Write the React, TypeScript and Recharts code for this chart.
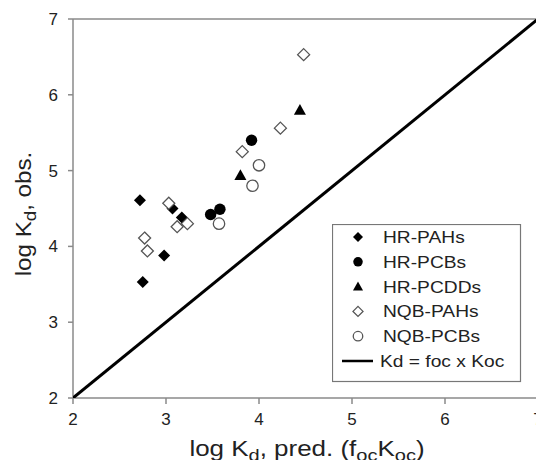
import React from "react";
import { ScatterChart, Scatter, XAxis, YAxis, ReferenceLine, Legend } from "recharts";

const hrPahs = [
  { x: 2.72, y: 4.61 },
  { x: 3.07, y: 4.5 },
  { x: 3.17, y: 4.38 },
  { x: 2.98, y: 3.88 },
  { x: 2.75, y: 3.53 },
];
const hrPcbs = [
  { x: 3.92, y: 5.4 },
  { x: 3.48, y: 4.42 },
  { x: 3.58, y: 4.49 },
];
const hrPcdds = [
  { x: 4.44, y: 5.8 },
  { x: 3.8, y: 4.94 },
];
const nqbPahs = [
  { x: 4.48, y: 6.53 },
  { x: 4.23, y: 5.56 },
  { x: 3.82, y: 5.25 },
  { x: 3.03, y: 4.57 },
  { x: 3.12, y: 4.26 },
  { x: 3.23, y: 4.3 },
  { x: 2.77, y: 4.11 },
  { x: 2.8, y: 3.94 },
];
const nqbPcbs = [
  { x: 4.0, y: 5.07 },
  { x: 3.93, y: 4.8 },
  { x: 3.57, y: 4.3 },
];
const parityLine = [
  { x: 2, y: 2 },
  { x: 7, y: 7 },
];
const axisTicks = [2, 3, 4, 5, 6, 7];
const legendItems = [
  { label: "HR-PAHs", kind: "diamond" },
  { label: "HR-PCBs", kind: "circle" },
  { label: "HR-PCDDs", kind: "triangle" },
  { label: "NQB-PAHs", kind: "openDiamond" },
  { label: "NQB-PCBs", kind: "openCircle" },
  { label: "Kd = foc x Koc", kind: "line" },
];

const FONT = '"Liberation Sans", Arial, Helvetica, sans-serif';
const AXIS = "#8a8a8a";

function marker(kind: string, cx: number, cy: number, s: number) {
  switch (kind) {
    case "diamond":
      return <polygon points={`${cx},${cy - s} ${cx + s},${cy} ${cx},${cy + s} ${cx - s},${cy}`} fill="#000" />;
    case "circle":
      return <circle cx={cx} cy={cy} r={s * 0.95} fill="#000" />;
    case "triangle":
      return <polygon points={`${cx},${cy - s} ${cx + s},${cy + s * 0.8} ${cx - s},${cy + s * 0.8}`} fill="#000" />;
    case "openDiamond":
      return (
        <polygon
          points={`${cx},${cy - s} ${cx + s},${cy} ${cx},${cy + s} ${cx - s},${cy}`}
          fill="#fff"
          stroke="#555"
          strokeWidth={1.3}
        />
      );
    case "openCircle":
      return <circle cx={cx} cy={cy} r={s * 0.95} fill="#fff" stroke="#555" strokeWidth={1.3} />;
    default:
      return <g />;
  }
}

const shapeOf = (kind: string) => (p: any) => marker(kind, p.cx, p.cy, 6);

function stretch(x: number, k: number) {
  return `translate(${x},0) scale(${k},1) translate(${-x},0)`;
}

function XTitle() {
  const cx = 307;
  return (
    <text x={cx} y={456} textAnchor="middle" fontFamily={FONT} fontSize={22} fill="#222" transform={stretch(cx, 1.18)}>
      log K
      <tspan dy={5} fontSize={17}>d</tspan>
      <tspan dy={-5}>, pred. (f</tspan>
      <tspan dy={5} fontSize={17}>oc</tspan>
      <tspan dy={-5}>K</tspan>
      <tspan dy={5} fontSize={17}>oc</tspan>
      <tspan dy={-5}>)</tspan>
    </text>
  );
}

function YTitle() {
  const x = 31;
  const y = 214;
  return (
    <text
      x={x}
      y={y}
      textAnchor="middle"
      fontFamily={FONT}
      fontSize={22}
      fill="#222"
      transform={`rotate(-90, ${x}, ${y}) ${stretch(x, 1.1)}`}
    >
      log K
      <tspan dy={5} fontSize={17}>d</tspan>
      <tspan dy={-5}>, obs.</tspan>
    </text>
  );
}

function LegendBox() {
  return (
    <svg width={190} height={159} style={{ display: "block" }}>
      <rect x={0.5} y={0.5} width={188} height={157} fill="#fff" stroke="#777" strokeWidth={1.2} />
      {legendItems.map((it, i) => {
        const cy = 13 + i * 24.8;
        if (it.kind === "line") {
          return (
            <g key={it.label}>
              <line x1={10} x2={41} y1={cy} y2={cy} stroke="#000" strokeWidth={2.5} />
              <text x={48} y={cy + 6} fontFamily={FONT} fontSize={17} fill="#222" transform={stretch(48, 1.13)}>
                {it.label}
              </text>
            </g>
          );
        }
        return (
          <g key={it.label}>
            {marker(it.kind, 26, cy, 5)}
            <text x={51} y={cy + 6} fontFamily={FONT} fontSize={17} fill="#222" transform={stretch(51, 1.13)}>
              {it.label}
            </text>
          </g>
        );
      })}
    </svg>
  );
}

export default function App() {
  return (
    <div style={{ width: 544, height: 468, margin: -8, position: "relative", background: "#fff" }}>
      <ScatterChart width={544} height={468} margin={{ top: 19, right: 6, left: 23, bottom: 20 }}>
        <XAxis
          type="number"
          dataKey="x"
          domain={[2, 7]}
          ticks={axisTicks}
          allowDataOverflow
          height={50}
          axisLine={{ stroke: AXIS, strokeWidth: 1.5 }}
          tickLine={{ stroke: AXIS, strokeWidth: 1.5 }}
          tickSize={6}
          tickMargin={9}
          tick={{ fill: "#222", fontSize: 17, fontFamily: FONT }}
          label={<XTitle />}
        />
        <YAxis
          type="number"
          dataKey="y"
          domain={[2, 7]}
          ticks={axisTicks}
          allowDataOverflow
          width={50}
          axisLine={{ stroke: AXIS, strokeWidth: 1.5 }}
          tickLine={{ stroke: AXIS, strokeWidth: 1.5 }}
          tickSize={5}
          tickMargin={10}
          tick={{ fill: "#222", fontSize: 17, fontFamily: FONT }}
          label={<YTitle />}
        />
        <ReferenceLine y={7} stroke={AXIS} strokeWidth={1.5} />
        <ReferenceLine x={7} stroke={AXIS} strokeWidth={1.5} />
        <Scatter
          name="Kd = foc x Koc"
          data={parityLine}
          line={{ stroke: "#000", strokeWidth: 3 }}
          shape={() => <g />}
          isAnimationActive={false}
        />
        <Scatter name="HR-PAHs" data={hrPahs} shape={shapeOf("diamond")} isAnimationActive={false} />
        <Scatter name="HR-PCBs" data={hrPcbs} shape={shapeOf("circle")} isAnimationActive={false} />
        <Scatter name="HR-PCDDs" data={hrPcdds} shape={shapeOf("triangle")} isAnimationActive={false} />
        <Scatter name="NQB-PAHs" data={nqbPahs} shape={shapeOf("openDiamond")} isAnimationActive={false} />
        <Scatter name="NQB-PCBs" data={nqbPcbs} shape={shapeOf("openCircle")} isAnimationActive={false} />
        <Legend
          layout="vertical"
          align="center"
          verticalAlign="middle"
          width={190}
          content={() => <LegendBox />}
          wrapperStyle={{ position: "absolute", left: 332, top: 224, width: 190, height: 159 }}
        />
      </ScatterChart>
    </div>
  );
}
